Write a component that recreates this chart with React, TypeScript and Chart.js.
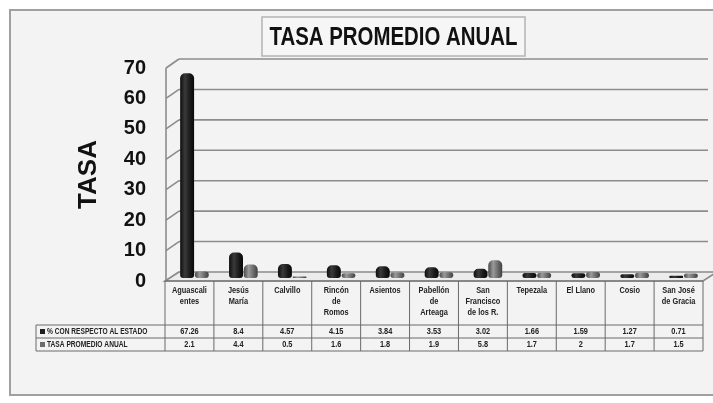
import React, { useEffect, useRef } from "react";
import { Chart, registerables } from "chart.js";

Chart.register(...registerables);

// ---------- data ----------
const categories: string[][] = [
  ["Aguascali", "entes"],
  ["Jesús", "María"],
  ["Calvillo"],
  ["Rincón", "de", "Romos"],
  ["Asientos"],
  ["Pabellón", "de", "Arteaga"],
  ["San", "Francisco", "de los R."],
  ["Tepezala"],
  ["El Llano"],
  ["Cosio"],
  ["San José", "de Gracia"],
];
const seriesNames = ["% CON RESPECTO AL ESTADO", "TASA PROMEDIO ANUAL"];
const pctEstado = [67.26, 8.4, 4.57, 4.15, 3.84, 3.53, 3.02, 1.66, 1.59, 1.27, 0.71];
const tasaPromedio = [2.1, 4.4, 0.5, 1.6, 1.8, 1.9, 5.8, 1.7, 2, 1.7, 1.5];
const chartTitle = "TASA PROMEDIO ANUAL";
const yAxisTitle = "TASA";
const yMin = 0;
const yMax = 70;
const yStep = 10;

// ---------- styling ----------
const seriesColors = ["#1f1f1f", "#6c6c6c"];
const seriesShades = [
  ["#0e0e0e", "#3a3a3a", "#1a1a1a", "#080808"],
  ["#4a4a4a", "#9a9a9a", "#6a6a6a", "#404040"],
];
const FONT = "'Liberation Sans', Arial, sans-serif";
const DX = 14; // 3D depth offset x
const DY = 9; // 3D depth offset y
const SHIFT = 5; // bars sit mid-depth
const LIFT = 3;
const CAT_PCT = 0.6;
const BAR_PCT = 0.95;
const W = 713;
const H = 403;

function txt(
  ctx: CanvasRenderingContext2D,
  s: string,
  x: number,
  y: number,
  font: string,
  sx: number,
  align: CanvasTextAlign,
  color: string
) {
  ctx.save();
  ctx.font = font;
  ctx.fillStyle = color;
  ctx.textBaseline = "middle";
  ctx.textAlign = align;
  ctx.translate(x, y);
  ctx.scale(sx, 1);
  ctx.fillText(s, 0, 0);
  ctx.restore();
}

function line(ctx: CanvasRenderingContext2D, x1: number, y1: number, x2: number, y2: number) {
  ctx.beginPath();
  ctx.moveTo(x1, y1);
  ctx.lineTo(x2, y2);
  ctx.stroke();
}

function cylinderFill(context: any) {
  const chart = context.chart;
  const d = context.datasetIndex ?? 0;
  const xs = chart.scales?.x;
  if (!xs || typeof context.dataIndex !== "number") return seriesColors[d];
  const p0 = xs.getPixelForValue(0);
  const p1 = xs.getPixelForValue(1);
  const pc = xs.getPixelForValue(context.dataIndex);
  if (![p0, p1, pc].every((v) => Number.isFinite(v))) return seriesColors[d];
  const catW = p1 - p0;
  const group = catW * CAT_PCT;
  const bw = (group / 2) * BAR_PCT;
  if (!(bw > 0)) return seriesColors[d];
  const cx = pc + (d - 0.5) * (group / 2);
  const g = chart.ctx.createLinearGradient(cx - bw / 2, 0, cx + bw / 2, 0);
  const s = seriesShades[d];
  g.addColorStop(0, s[0]);
  g.addColorStop(0.35, s[1]);
  g.addColorStop(0.7, s[2]);
  g.addColorStop(1, s[3]);
  return g;
}

const scenePlugin = {
  id: "scene",
  beforeDraw(chart: any) {
    const ctx: CanvasRenderingContext2D = chart.ctx;
    ctx.save();
    ctx.fillStyle = "#ffffff";
    ctx.fillRect(0, 0, W, H);
    // outer frame
    ctx.fillStyle = "#f3f3f3";
    ctx.fillRect(10, 10, W, 385);
    ctx.strokeStyle = "#a0a0a0";
    ctx.lineWidth = 2;
    ctx.strokeRect(10, 10, W + 10, 385);
    // title box
    ctx.fillStyle = "#f6f6f6";
    ctx.fillRect(262, 17, 263, 39);
    ctx.strokeStyle = "#b4b4b4";
    ctx.lineWidth = 1.5;
    ctx.strokeRect(262, 17, 263, 39);
    ctx.font = `bold 26px ${FONT}`;
    const tw = ctx.measureText(chartTitle).width;
    txt(ctx, chartTitle, 393.5, 37.5, `bold 26px ${FONT}`, 248 / tw, "center", "#111");
    ctx.restore();
  },
  beforeDatasetsDraw(chart: any) {
    const ctx: CanvasRenderingContext2D = chart.ctx;
    const { x, y } = chart.scales;
    const half = (x.getPixelForValue(1) - x.getPixelForValue(0)) / 2;
    const fl = x.getPixelForValue(0) - half - SHIFT;
    const fr = x.getPixelForValue(categories.length - 1) + half - SHIFT;
    const y0 = y.getPixelForValue(yMin);
    const yT = y.getPixelForValue(yMax);
    ctx.save();
    ctx.strokeStyle = "#8c8c8c";
    ctx.lineWidth = 1.6;
    // left wall vertical
    line(ctx, fl + 1, yT, fl + 1, y0);
    // gridlines on back wall
    for (let v = yMin; v <= yMax; v += yStep) {
      const yf = y.getPixelForValue(v);
      line(ctx, fl + 1, yf, fl + DX, yf - DY);
      if (v !== yMin) line(ctx, fl + DX, yf - DY, chart.chartArea.right, yf - DY);
    }
    // floor
    ctx.strokeStyle = "#8a8a8a";
    ctx.fillStyle = "#ececec";
    ctx.beginPath();
    ctx.moveTo(fl, y0);
    ctx.lineTo(fl + DX, y0 - DY);
    ctx.lineTo(fr + DX, y0 - DY);
    ctx.lineTo(fr, y0);
    ctx.closePath();
    ctx.fill();
    ctx.stroke();
    ctx.restore();
    // bars stand mid-depth on the floor
    ctx.save();
    ctx.translate(0, -LIFT);
  },
  afterDatasetsDraw(chart: any) {
    chart.ctx.restore();
  },
  afterDraw(chart: any) {
    const ctx: CanvasRenderingContext2D = chart.ctx;
    const { x, y } = chart.scales;
    const half = (x.getPixelForValue(1) - x.getPixelForValue(0)) / 2;
    const fl = x.getPixelForValue(0) - half - SHIFT;
    const fr = x.getPixelForValue(categories.length - 1) + half - SHIFT;
    const y0 = y.getPixelForValue(yMin);
    const headerH = 44;
    const rowH = 13;
    const legLeft = 36;
    const r1 = y0 + headerH;
    const r2 = r1 + rowH;
    const r3 = r2 + rowH;
    ctx.save();
    ctx.strokeStyle = "#6a6a6a";
    ctx.lineWidth = 1;
    // horizontal lines
    line(ctx, fl, y0, fr, y0);
    line(ctx, legLeft, r1, fr, r1);
    line(ctx, legLeft, r2, fr, r2);
    line(ctx, legLeft, r3, fr, r3);
    line(ctx, legLeft, r1, legLeft, r3);
    // vertical lines
    for (let i = 0; i <= categories.length; i++) {
      const bx = fl + i * half * 2;
      line(ctx, bx, y0, bx, r3);
    }
    const f = `bold 9px ${FONT}`;
    categories.forEach((lines, i) => {
      const cx = x.getPixelForValue(i) - SHIFT;
      lines.forEach((s, k) => txt(ctx, s, cx, y0 + 10 + k * 11, f, 0.82, "center", "#222"));
      txt(ctx, String(pctEstado[i]), cx, r1 + rowH / 2 + 0.5, f, 0.82, "center", "#222");
      txt(ctx, String(tasaPromedio[i]), cx, r2 + rowH / 2 + 0.5, f, 0.82, "center", "#222");
    });
    // legend keys
    [r1, r2].forEach((ry, k) => {
      ctx.fillStyle = seriesColors[k];
      ctx.fillRect(legLeft + 4, ry + rowH / 2 - 2.5, 5, 5);
      txt(ctx, seriesNames[k], legLeft + 11, ry + rowH / 2 + 0.5, `bold 8.5px ${FONT}`, 0.78, "left", "#222");
    });
    ctx.restore();
  },
};

export default function App() {
  const ref = useRef<HTMLCanvasElement | null>(null);
  useEffect(() => {
    if (!ref.current) return;
    const ds = (k: number, data: number[]) => ({
      label: seriesNames[k],
      data,
      backgroundColor: cylinderFill,
      categoryPercentage: CAT_PCT,
      barPercentage: BAR_PCT,
      borderRadius: { topLeft: 5, topRight: 5, bottomLeft: 3, bottomRight: 3 },
      borderSkipped: false,
    });
    const chart = new Chart(ref.current, {
      type: "bar",
      data: {
        labels: categories.map((c) => c.join(" ")),
        datasets: [ds(0, pctEstado), ds(1, tasaPromedio)],
      },
      options: {
        responsive: false,
        animation: false,
        devicePixelRatio: 1,
        layout: { padding: { top: 68, bottom: H - 281, right: 5, left: 0 } },
        plugins: { legend: { display: false }, tooltip: { enabled: false }, title: { display: false } },
        scales: {
          x: { display: false },
          y: {
            min: yMin,
            max: yMax,
            ticks: {
              stepSize: yStep,
              padding: 24,
              color: "#111",
              font: { family: FONT, size: 20, weight: "bold" },
            },
            grid: { display: false, drawTicks: false },
            border: { display: false },
            title: {
              display: true,
              text: yAxisTitle,
              color: "#111",
              font: { family: FONT, size: 26, weight: "bold" },
              padding: { top: 73, bottom: 0 },
            },
            afterFit(scale: any) {
              scale.width = 170;
            },
          },
        },
      },
      plugins: [scenePlugin],
    } as any);
    return () => chart.destroy();
  }, []);
  return (
    <div style={{ position: "fixed", left: 0, top: 0, width: W, height: H }}>
      <canvas ref={ref} width={W} height={H} style={{ display: "block" }} />
    </div>
  );
}
